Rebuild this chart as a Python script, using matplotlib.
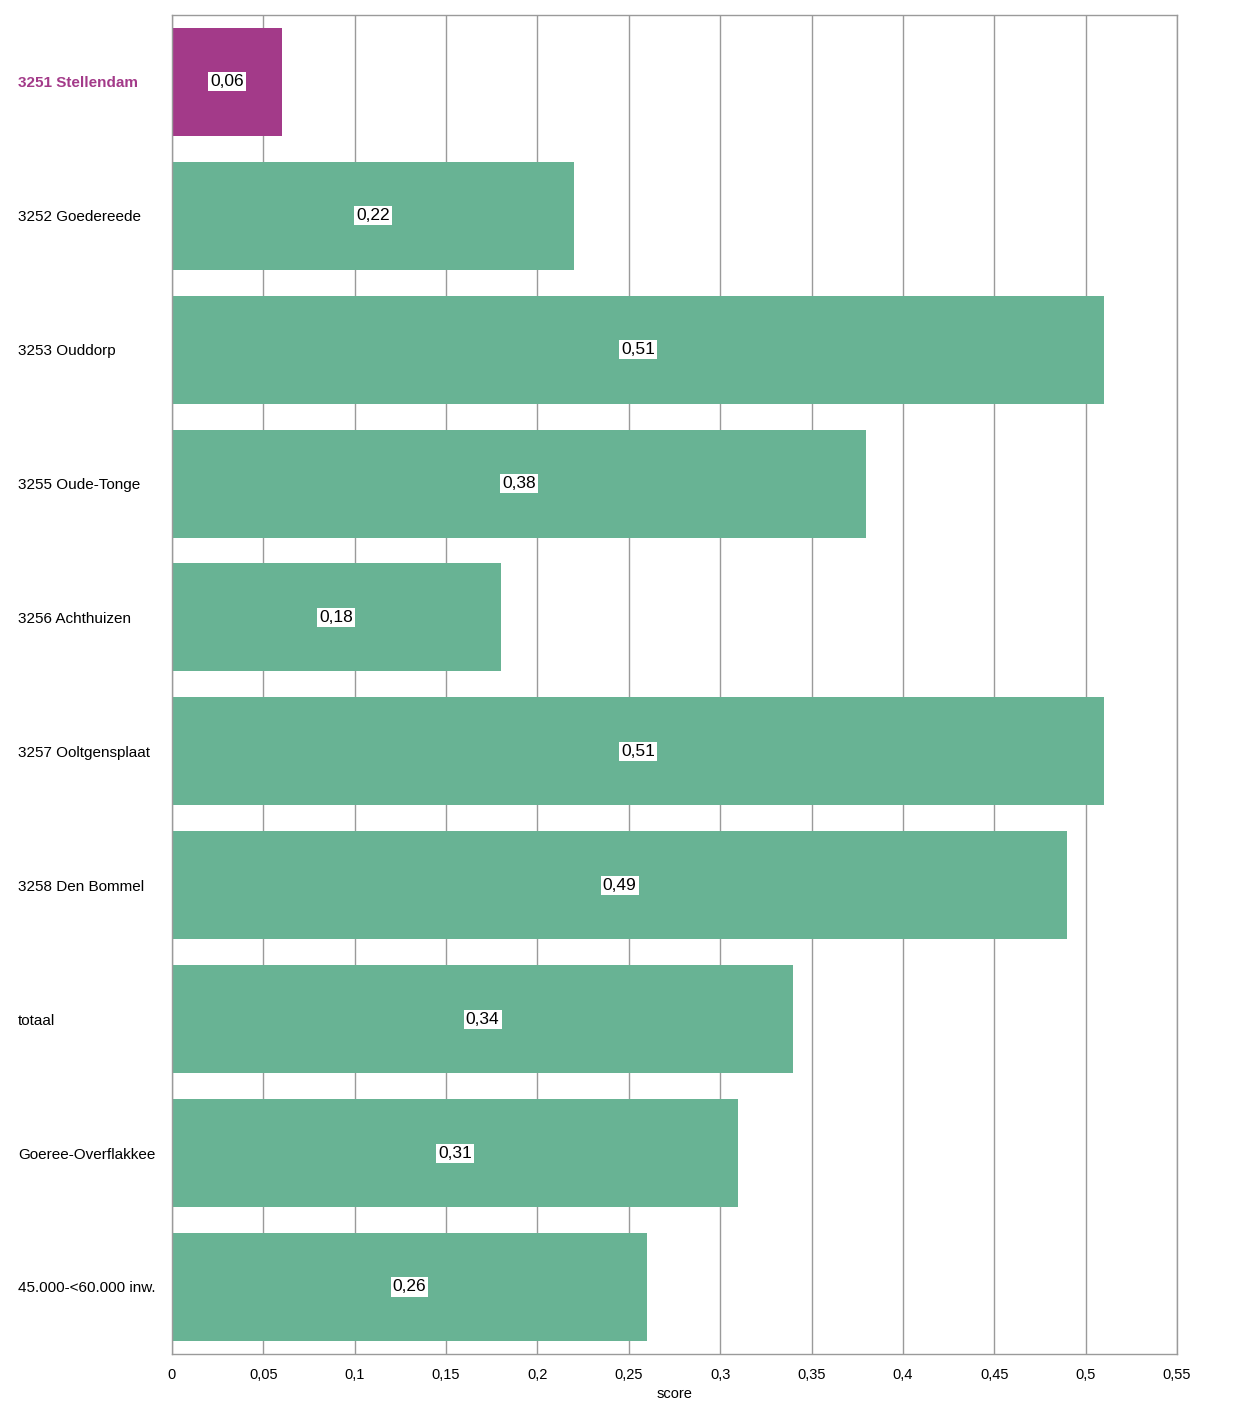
import numpy as np
import matplotlib.pyplot as plt
from matplotlib import font_manager

# pick a narrow sans if there is one
names = {f.name for f in font_manager.fontManager.ttflist}
family = 'Liberation Sans Narrow' if 'Liberation Sans Narrow' in names else 'Liberation Sans'
plt.rcParams['font.family'] = [family, 'DejaVu Sans']

categories = ['3251 Stellendam', '3252 Goedereede', '3253 Ouddorp', '3255 Oude-Tonge',
              '3256 Achthuizen', '3257 Ooltgensplaat', '3258 Den Bommel', 'totaal',
              'Goeree-Overflakkee', '45.000-<60.000 inw.']
values = [0.06, 0.22, 0.51, 0.38, 0.18, 0.51, 0.49, 0.34, 0.31, 0.26]
highlight = '3251 Stellendam'

xticks = [0, 0.05, 0.1, 0.15, 0.2, 0.25, 0.3, 0.35, 0.4, 0.45, 0.5, 0.55]

purple = '#a33a89'
green = '#68b394'

fig = plt.figure(figsize=(12.4, 14.17), dpi=100)
ax = fig.add_axes([0.1387, 0.0445, 0.8105, 0.945])

y = np.arange(len(categories))
colors = [purple if c == highlight else green for c in categories]
ax.barh(y, values, height=0.807, color=colors, zorder=2)

for yi, v in zip(y, values):
    ax.text(v / 2, yi, f'{v:.2f}'.replace('.', ','), ha='center', va='center',
            fontsize=12.5, color='black', zorder=3,
            bbox=dict(facecolor='white', edgecolor='none', pad=1.5))

ax.set_ylim(len(categories) - 0.5, -0.5)
ax.set_xlim(0, 0.55)
ax.set_xticks(xticks)
ax.set_xticklabels([f'{t:g}'.replace('.', ',') for t in xticks], fontsize=10.5)
ax.set_yticks(y)
ax.set_yticklabels(categories, fontsize=11, ha='left')
ax.tick_params(axis='y', length=0, pad=154 * 0.72)
ax.tick_params(axis='x', length=0, pad=10)
for lab in ax.get_yticklabels():
    if lab.get_text() == highlight:
        lab.set_color(purple)
        lab.set_fontweight('bold')

ax.grid(axis='x', color='#9a9a9a', linewidth=1, zorder=0)
ax.set_axisbelow(True)
for s in ax.spines.values():
    s.set_color('#9a9a9a')
    s.set_linewidth(1)

ax.set_xlabel('score', fontsize=10.5, labelpad=4)

fig.savefig('out.png', dpi=100)
